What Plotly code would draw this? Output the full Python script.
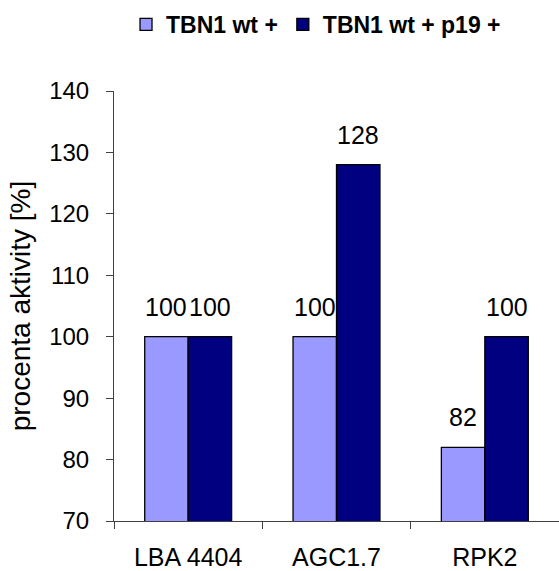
import plotly.graph_objects as go

categories = ["LBA 4404", "AGC1.7", "RPK2"]
series_names = ["TBN1 wt +", "TBN1 wt + p19 +"]
values_wt = [100, 100, 82]
values_p19 = [100, 128, 100]
colors = ["#9999ff", "#000080"]

FONT = "Liberation Sans, Arial, sans-serif"

fig = go.Figure()
for name, vals, col in zip(series_names, [values_wt, values_p19], colors):
    fig.add_trace(go.Bar(
        x=categories, y=vals, name=name,
        marker=dict(color=col, line=dict(color="black", width=1.3)),
    ))

# value labels above each bar
for i, vals in enumerate([values_wt, values_p19]):
    for j, v in enumerate(vals):
        fig.add_annotation(
            x=categories[j], y=v, text=str(v), showarrow=False,
            xref="x", yref="y", yanchor="bottom",
            xshift=(-1 if i == 0 else 1) * 21.75, yshift=14,
            font=dict(family=FONT, size=25, color="black"),
        )

fig.update_layout(
    width=559, height=571,
    margin=dict(l=114, r=0, t=91, b=48),
    paper_bgcolor="white", plot_bgcolor="white",
    barmode="group", bargap=0.414, bargroupgap=0,
    font=dict(family=FONT, size=24, color="black"),
    showlegend=True,
    legend=dict(
        orientation="h", x=0.027, y=1.155, xanchor="left", yanchor="middle",
        font=dict(family=FONT, size=23, color="black", weight="bold"),
        itemwidth=30, traceorder="normal",
    ),
    xaxis=dict(
        showline=True, linecolor="#404040", linewidth=1,
        ticks="outside", tickson="boundaries", ticklen=7, tickcolor="#404040",
        showgrid=False, tickfont=dict(size=25), ticklabelstandoff=14,
    ),
    yaxis=dict(
        range=[70, 140], dtick=10, showline=True, linecolor="#404040", linewidth=1,
        ticks="outside", ticklen=7, tickcolor="#404040", showgrid=False, zeroline=False,
        tickfont=dict(size=24), ticklabelstandoff=12,
        title=dict(text="procenta aktivity [%]", font=dict(size=28), standoff=10),
    ),
)

fig.write_html("out.html")
